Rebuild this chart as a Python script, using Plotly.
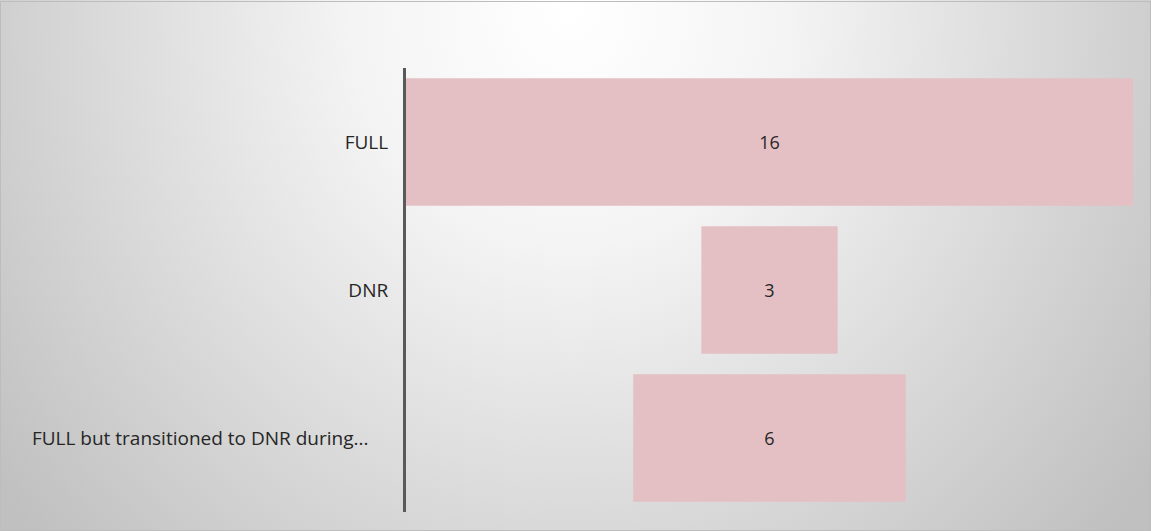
import base64
import plotly.graph_objects as go

# Funnel stages and counts
stages = ["FULL", "DNR", "FULL but transitioned to DNR during hospitalization"]
stage_labels = ["FULL", "DNR", "FULL but transitioned to DNR during...\u00a0\u00a0\u00a0\u00a0"]
counts = [16, 3, 6]

W, H = 1151, 531
M_L, M_R, M_T, M_B = 406, 18, 68, 19
PW, PH = W - M_L - M_R, H - M_T - M_B

# Soft radial background with a thin border, drawn as an SVG image
bg_svg = f"""<svg xmlns='http://www.w3.org/2000/svg' width='{W}' height='{H}' viewBox='0 0 {W} {H}'>
<defs><radialGradient id='g' gradientUnits='userSpaceOnUse' cx='0' cy='0' r='1'
 gradientTransform='translate(570 10) scale(720 780)'>
<stop offset='0' stop-color='#ffffff'/><stop offset='0.3' stop-color='#f4f4f4'/>
<stop offset='1' stop-color='#c0c0c0'/></radialGradient></defs>
<rect x='0' y='0' width='{W}' height='{H}' fill='url(#g)'/>
<rect x='0.5' y='1.5' width='{W-1}' height='{H-2}' fill='none' stroke='#bdbdbd' stroke-width='1'/>
</svg>"""
bg_uri = "data:image/svg+xml;base64," + base64.b64encode(bg_svg.encode()).decode()

fig = go.Figure(
    go.Funnel(
        y=stages,
        x=counts,
        orientation="h",
        marker=dict(color="#e4c0c4", line=dict(width=0)),
        connector=dict(visible=False),
        textinfo="value",
        textposition="inside",
        insidetextfont=dict(family="Open Sans", size=18, color="#262626"),
        hoverinfo="y+x",
    )
)

fig.update_layout(
    width=W,
    height=H,
    margin=dict(l=M_L, r=M_R, t=M_T, b=M_B, pad=0),
    paper_bgcolor="#ffffff",
    plot_bgcolor="rgba(0,0,0,0)",
    funnelgap=0.14,
    showlegend=False,
    font=dict(family="Open Sans", size=19, color="#262626"),
    images=[dict(
        source=bg_uri,
        xref="paper", yref="paper",
        x=-M_L / PW, y=1 + M_T / PH,
        sizex=W / PW, sizey=H / PH,
        xanchor="left", yanchor="top",
        sizing="stretch", layer="below",
    )],
)

fig.update_xaxes(range=[-8, 8], visible=False, fixedrange=True)
fig.update_yaxes(
    tickmode="array",
    tickvals=stages,
    ticktext=stage_labels,
    showline=True,
    linecolor="#595959",
    linewidth=3,
    showgrid=False,
    ticks="",
    ticklabelstandoff=11,
    tickfont=dict(family="Open Sans", size=19, color="#262626"),
    fixedrange=True,
)

fig.write_html("out.html")
